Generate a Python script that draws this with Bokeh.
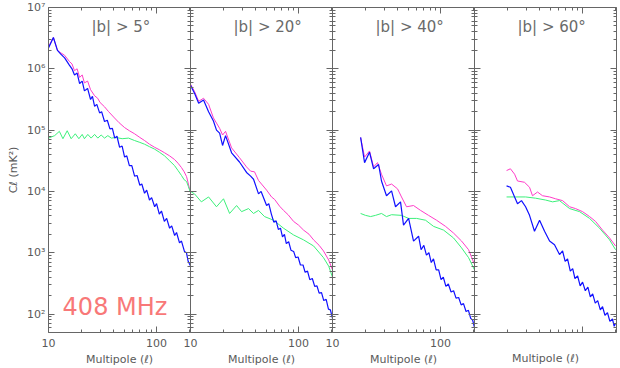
from bokeh.plotting import figure
from bokeh.layouts import row
from bokeh.models import LogAxis, FixedTicker, BasicTickFormatter, CustomJSTickFormatter, Label, Range1d
from bokeh.embed import file_html
from bokeh.resources import INLINE

# ---------------- data ----------------
titles = ["|b| > 5°", "|b| > 20°", "|b| > 40°", "|b| > 60°"]
x_title = "Multipole (ℓ)"
y_title = "Cℓ (mK²)"
freq_label = "408 MHz"

# panel 1 : |b| > 5
l1_mag = [10, 11.1, 12.1, 13, 14.1, 15.6, 16.5, 17.4, 18.4, 19.4, 20.5, 21.5, 23, 24.5, 26.7, 28.5, 30, 33, 36, 40.8,
          45, 50.6, 56, 62.6, 70, 77.4, 86, 95.8, 106, 118.6, 132, 146.8, 158, 170, 180, 189.5, 197, 205]
c1_mag = [2.29e6, 3.24e6, 2.00e6, 1.82e6, 1.66e6, 1.32e6, 1.20e6, 9.33e5, 1.00e6, 7.24e5, 7.94e5, 5.89e5, 6.31e5, 4.57e5,
          3.63e5, 3.31e5, 2.82e5, 2.40e5, 2.00e5, 1.58e5, 1.32e5, 1.10e5, 9.77e4, 8.71e4, 7.59e4, 6.76e4, 5.89e4, 5.25e4,
          4.79e4, 4.27e4, 3.80e4, 3.31e4, 2.88e4, 2.45e4, 2.09e4, 1.74e4, 1.32e4, 9.77e3]
l1_grn = [10, 11.4, 12.6, 13.6, 14.9, 16.2, 17.7, 19.1, 20.5, 21.5, 23.1, 24.8, 26.7, 28.6, 30.7, 33, 35.4, 38.1, 42.3, 48,
          55, 62.6, 70, 77.4, 86, 95.8, 106, 118.6, 132, 146.8, 158, 170, 180, 189.5, 197, 205]
c1_grn = [7.41e4, 8.13e4, 9.55e4, 7.24e4, 9.77e4, 7.24e4, 8.71e4, 7.24e4, 8.51e4, 7.24e4, 8.51e4, 7.41e4, 8.51e4, 7.41e4,
          8.32e4, 7.41e4, 8.13e4, 7.41e4, 7.59e4, 7.24e4, 7.41e4, 6.76e4, 6.31e4, 5.89e4, 5.37e4, 4.90e4, 4.37e4, 3.80e4,
          3.16e4, 2.63e4, 2.19e4, 1.82e4, 1.55e4, 1.45e4, 1.20e4, 9.77e3]
l1_blu = [10, 11.1, 12.1, 13, 14.1, 15.6, 16.5, 17.4, 18.4, 19.4, 20.5, 21.5, 23, 24.5, 25.5, 26.7, 28, 29.7, 31, 33,
          35, 37, 39, 41, 43, 45.5, 48, 50.6, 53, 56, 59, 62.6, 66, 70, 73, 77.4, 81, 86, 90, 96,
          100, 106, 111, 118, 124, 132, 138, 147, 153, 163, 170, 181, 189, 196, 205]
c1_blu = [2.19e6, 3.24e6, 2.00e6, 1.74e6, 1.51e6, 1.15e6, 1.00e6, 7.94e5, 8.51e5, 5.75e5, 6.31e5, 4.37e5, 4.79e5, 3.16e5,
          3.55e5, 2.45e5, 2.63e5, 1.91e5, 2.00e5, 1.38e5, 1.45e5, 1.05e5, 1.07e5, 7.41e4, 7.94e4, 5.25e4, 5.50e4, 3.63e4,
          3.80e4, 2.63e4, 2.63e4, 1.78e4, 1.82e4, 1.26e4, 1.32e4, 9.33e3, 1.05e4, 7.24e3, 7.94e3, 5.62e3, 6.31e3, 4.27e3,
          4.79e3, 3.24e3, 3.63e3, 2.51e3, 2.75e3, 1.91e3, 2.14e3, 1.45e3, 1.55e3, 1.05e3, 1.00e3, 7.24e2, 6.17e2]

# panel 2 : |b| > 20
l2_mag = [10, 10.9, 11.9, 13.2, 14.7, 16.3, 18.6, 19.8, 21.1, 24, 28.4, 33, 36, 39.1, 42.6, 45.4, 50.6, 56.2, 60, 66.7,
          72.6, 80, 89.9, 100, 111.2, 125, 137.7, 155, 170, 190, 206]
c2_mag = [5.62e5, 4.27e5, 2.95e5, 3.31e5, 2.63e5, 1.58e5, 1.07e5, 8.32e4, 9.55e4, 5.13e4, 3.55e4, 2.51e4, 2.14e4, 2.09e4,
          1.51e4, 1.32e4, 1.05e4, 8.13e3, 7.41e3, 5.75e3, 4.90e3, 4.17e3, 3.24e3, 2.82e3, 2.34e3, 2.00e3, 1.62e3, 1.32e3,
          1.07e3, 7.59e2, 5.25e2]
l2_grn = [10, 10.9, 12.6, 14.7, 17.4, 20.2, 23, 26.7, 29.7, 34.4, 38.3, 42.6, 48.4, 58.7, 72.6, 89.9, 111.2, 137.7, 170,
          190, 206]
c2_grn = [1.00e4, 9.12e3, 6.76e3, 8.13e3, 5.62e3, 7.59e3, 4.37e3, 5.89e3, 4.68e3, 5.25e3, 4.37e3, 4.90e3, 3.89e3, 3.39e3,
          2.51e3, 1.95e3, 1.62e3, 1.29e3, 8.32e2, 6.03e2, 3.98e2]
l2_blu = [10, 10.9, 11.9, 13.2, 14.7, 16.3, 17.4, 18.6, 19.8, 21.1, 24, 28.4, 33, 36, 38.3, 42.6, 45, 50.6, 53, 56,
          59, 62, 65, 68, 71, 74, 77, 81, 85, 90, 94, 99, 104, 110, 115, 121, 127, 134, 141, 148,
          155, 163, 171, 180, 189, 197, 206]
c2_blu = [5.37e5, 3.98e5, 2.75e5, 3.09e5, 2.00e5, 1.41e5, 1.00e5, 8.91e4, 5.62e4, 8.13e4, 4.27e4, 3.02e4, 2.04e4, 1.78e4,
          1.58e4, 9.12e3, 1.00e4, 5.89e3, 6.31e3, 4.27e3, 3.16e3, 3.31e3, 2.40e3, 2.51e3, 1.82e3, 2.00e3, 1.41e3, 1.51e3,
          1.10e3, 1.05e3, 8.32e2, 8.51e2, 6.31e2, 6.31e2, 4.79e2, 5.01e2, 3.63e2, 3.80e2, 2.82e2, 2.88e2, 2.19e2, 2.24e2,
          1.66e2, 1.74e2, 1.20e2, 1.17e2, 85.1]

# panel 3 : |b| > 40
l3_mag = [18.2, 19.8, 22, 24, 26.1, 28.4, 31.6, 35.2, 40, 43.5, 48.4, 56.2, 65.3, 77.4, 91.8, 111.2, 131.9, 156.4, 181.5, 206]
c3_mag = [7.59e4, 3.63e4, 4.57e4, 2.51e4, 2.95e4, 1.91e4, 1.23e4, 1.32e4, 1.10e4, 8.13e3, 5.62e3, 5.89e3, 4.90e3, 4.07e3,
          3.39e3, 2.69e3, 2.09e3, 1.55e3, 1.12e3, 6.46e2]
l3_grn = [18.2, 20.2, 22.5, 25, 28.4, 31.6, 35.2, 43.5, 50.6, 60, 72.6, 86.1, 106.6, 131.9, 156.4, 181.5, 206]
c3_grn = [4.37e3, 4.07e3, 3.89e3, 4.07e3, 4.37e3, 3.89e3, 4.17e3, 4.07e3, 3.63e3, 3.63e3, 3.39e3, 2.69e3, 2.34e3, 1.74e3,
          1.20e3, 8.32e2, 5.25e2]
l3_blu = [18.2, 19.8, 22, 24, 26.7, 28.4, 31.6, 35.2, 38.3, 42.6, 45.4, 50.6, 56.2, 62.6, 66, 70, 74, 78, 82, 86,
          91, 96, 101, 106, 112, 118, 125, 132, 139, 147, 155, 163, 172, 181, 190, 198, 206]
c3_blu = [7.59e4, 2.95e4, 4.37e4, 2.34e4, 2.75e4, 1.48e4, 8.51e3, 1.02e4, 5.62e3, 6.76e3, 2.82e3, 3.63e3, 1.55e3, 1.86e3,
          1.12e3, 1.32e3, 9.12e2, 1.00e3, 6.92e2, 7.94e2, 5.25e2, 5.25e2, 3.63e2, 3.98e2, 2.82e2, 3.09e2, 2.29e2, 2.40e2,
          1.82e2, 1.86e2, 1.41e2, 1.48e2, 1.10e2, 1.15e2, 85.1, 79.4, 60.3]

# panel 4 : |b| > 60
l4_mag = [19.8, 21.5, 23.5, 25, 29, 32.3, 34.4, 38.3, 42.6, 49.5, 56.2, 65.3, 75.8, 86.1, 100, 116.1, 131.9, 153, 177.8, 202]
c4_mag = [2.19e4, 2.34e4, 1.91e4, 1.48e4, 1.41e4, 1.17e4, 8.51e3, 9.77e3, 8.51e3, 8.13e3, 7.59e3, 7.08e3, 5.62e3, 5.25e3,
          4.68e3, 3.89e3, 3.24e3, 2.34e3, 1.74e3, 1.29e3]
l4_grn = [19.8, 24, 29.7, 36.7, 45.4, 52.8, 61.2, 75.8, 93.8, 116.1, 143.7, 177.8, 202]
c4_grn = [8.13e3, 8.13e3, 8.13e3, 7.76e3, 7.24e3, 6.76e3, 7.08e3, 5.25e3, 4.68e3, 3.63e3, 2.51e3, 1.62e3, 1.12e3]
l4_blu = [19.8, 21.5, 23.5, 25, 27.2, 29.7, 32.3, 35.9, 40, 44.5, 49.5, 55, 61.2, 65.3, 69, 72.6, 77, 81, 85, 90,
          95, 100, 106, 112, 118, 124, 131, 138, 146, 153, 161, 170, 179, 189, 196, 202]
c4_blu = [1.23e4, 1.17e4, 8.13e3, 6.31e3, 7.08e3, 5.62e3, 4.07e3, 2.24e3, 3.39e3, 2.24e3, 1.55e3, 1.35e3, 9.33e2, 1.07e3,
          7.24e2, 7.94e2, 5.01e2, 5.50e2, 3.80e2, 4.17e2, 2.88e2, 3.31e2, 2.40e2, 2.75e2, 1.91e2, 2.14e2, 1.51e2, 1.66e2,
          1.17e2, 1.32e2, 95.5, 105, 75.9, 83.2, 63.1, 70.8]

panels = [
    (l1_mag, c1_mag, l1_grn, c1_grn, l1_blu, c1_blu),
    (l2_mag, c2_mag, l2_grn, c2_grn, l2_blu, c2_blu),
    (l3_mag, c3_mag, l3_grn, c3_grn, l3_blu, c3_blu),
    (l4_mag, c4_mag, l4_grn, c4_grn, l4_blu, c4_blu),
]

x_major = [10, 100]
x_minor = [20, 30, 40, 50, 60, 70, 80, 90, 200]
y_major = [1e2, 1e3, 1e4, 1e5, 1e6, 1e7]
y_minor = [k * 10 ** e for e in range(1, 7) for k in range(2, 10)]

# ---------------- style ----------------
X_RANGE = (10, 206)
Y_RANGE = (50, 1e7)
W = 142          # frame width of each panel
TOP, BOT, LEFT, OV = 7, 31, 48, 12
FIG_H = 368
AX = "#666666"
TXT = "#5a5a5a"
FONT = "DejaVu Sans"
MAG, GRN, BLU = "#ff3cc8", "#3cf07a", "#1010ff"

SUP_FMT = CustomJSTickFormatter(code="""
const sup = {"1": "\u00b9", "2": "\u00b2", "3": "\u00b3", "4": "\u2074", "5": "\u2075", "6": "\u2076", "7": "\u2077"};
const e = String(Math.round(Math.log10(tick)));
return "10" + (sup[e] || e);
""")


def style_axis(ax, show_labels):
    ax.axis_line_color = AX
    ax.major_tick_line_color = AX
    ax.minor_tick_line_color = AX
    ax.major_tick_in = 6
    ax.major_tick_out = 0
    ax.minor_tick_in = 3
    ax.minor_tick_out = 0
    ax.major_label_text_color = TXT
    ax.major_label_text_font = FONT
    ax.major_label_text_font_size = "11px"
    ax.axis_label_text_color = TXT
    ax.axis_label_text_font = FONT
    ax.axis_label_text_font_size = "11px"
    ax.axis_label_text_font_style = "normal"
    if not show_labels:
        ax.major_label_text_color = None
        ax.major_label_text_font_size = "1px"
        ax.major_label_standoff = 0


figs = []
for i, (lm, cm, lg, cg, lb, cb) in enumerate(panels):
    left = LEFT if i == 0 else OV
    right = 2 if i == 3 else 0
    p = figure(width=W + left + right, height=FIG_H,
               x_axis_type="log", y_axis_type="log",
               x_range=Range1d(*X_RANGE), y_range=Range1d(*Y_RANGE),
               output_backend="svg", toolbar_location=None,
               min_border_left=left, min_border_right=right,
               min_border_top=TOP, min_border_bottom=BOT,
               margin=(0, 0, 0, 0) if i == 0 else (0, 0, 0, -OV))
    p.border_fill_color = None
    p.background_fill_color = None
    p.outline_line_color = None
    p.grid.visible = False

    xb = p.xaxis[0]
    xb.ticker = FixedTicker(ticks=x_major, minor_ticks=x_minor)
    xb.formatter = BasicTickFormatter()
    style_axis(xb, i < 3)
    xb.axis_label = x_title
    if i < 3:
        xb.major_label_standoff = 6
        xb.axis_label_standoff = 3
    else:
        xb.axis_label_standoff = 19

    yl = p.yaxis[0]
    yl.ticker = FixedTicker(ticks=y_major, minor_ticks=y_minor)
    yl.formatter = SUP_FMT
    style_axis(yl, i == 0)
    if i == 0:
        yl.major_label_standoff = 3
        yl.axis_label = y_title
        yl.axis_label_standoff = 4

    top = LogAxis(ticker=FixedTicker(ticks=x_major, minor_ticks=x_minor))
    style_axis(top, False)
    p.add_layout(top, "above")
    rgt = LogAxis(ticker=FixedTicker(ticks=y_major, minor_ticks=y_minor))
    style_axis(rgt, False)
    p.add_layout(rgt, "right")

    p.line(lm, cm, line_color=MAG, line_width=1)
    p.line(lg, cg, line_color=GRN, line_width=1)
    p.line(lb, cb, line_color=BLU, line_width=1.2)

    p.add_layout(Label(x=25, y=4.8e6, text=titles[i], text_font=FONT, text_font_size="15px",
                       text_color="#6a6a6a", text_baseline="middle", text_align="left"))
    if i == 0:
        p.add_layout(Label(x=13.5, y=131, text=freq_label, text_font=FONT, text_font_size="24px",
                           text_color="#f87878", text_baseline="middle", text_align="left"))
    figs.append(p)

layout = row(figs, spacing=0)
open("out.html", "w").write(file_html(layout, INLINE))
